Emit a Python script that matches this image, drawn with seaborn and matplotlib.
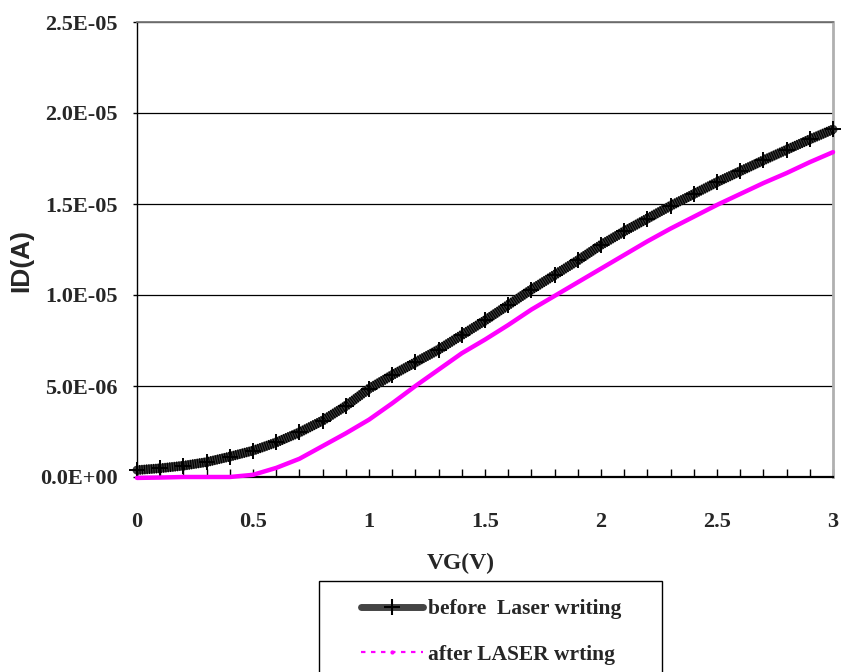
import numpy as np
import pandas as pd
import seaborn as sns
import matplotlib
matplotlib.use("Agg")
import matplotlib.pyplot as plt
from matplotlib.lines import Line2D
from matplotlib.patches import Rectangle
from matplotlib.ticker import FixedLocator, FixedFormatter, MultipleLocator

# ---- data ----
vg = [0.0, 0.1, 0.2, 0.3, 0.4, 0.5, 0.6, 0.7, 0.8, 0.9, 1.0,
      1.1, 1.2, 1.3, 1.4, 1.5, 1.6, 1.7, 1.8, 1.9, 2.0,
      2.1, 2.2, 2.3, 2.4, 2.5, 2.6, 2.7, 2.8, 2.9, 3.0]
id_before = [0.38, 0.48, 0.62, 0.82, 1.12, 1.45, 1.90, 2.45, 3.10, 3.90, 4.85,
             5.60, 6.30, 7.00, 7.80, 8.60, 9.45, 10.30, 11.10, 11.90, 12.75,
             13.50, 14.20, 14.90, 15.55, 16.20, 16.80, 17.40, 17.98, 18.55, 19.10]  # x1e-6 A
id_after = [-0.05, -0.03, 0.0, 0.0, 0.0, 0.12, 0.50, 1.00, 1.70, 2.40, 3.15,
            4.05, 5.00, 5.90, 6.80, 7.55, 8.35, 9.20, 9.95, 10.70, 11.45,
            12.20, 12.95, 13.65, 14.30, 14.95, 15.55, 16.15, 16.70, 17.30, 17.85]  # x1e-6 A
series_names = ["before  Laser writing", "after LASER wrting"]
x_ticks = [0, 0.5, 1, 1.5, 2, 2.5, 3]
x_tick_labels = ["0", "0.5", "1", "1.5", "2", "2.5", "3"]
y_ticks = [0.0, 5e-6, 1e-5, 1.5e-5, 2e-5, 2.5e-5]
y_tick_labels = ["0.0E+00", "5.0E-06", "1.0E-05", "1.5E-05", "2.0E-05", "2.5E-05"]

df = pd.DataFrame({
    "VG": vg + vg,
    "ID": [v * 1e-6 for v in id_before] + [v * 1e-6 for v in id_after],
    "series": [series_names[0]] * len(vg) + [series_names[1]] * len(vg),
})

sns.set_style("white")
plt.rcParams["font.family"] = ["Liberation Serif", "DejaVu Serif"]

W, H = 841, 672
fig = plt.figure(figsize=(W / 100, H / 100), dpi=100)
x0, x1, y0, y1 = 137, 833, 477, 22
ax = fig.add_axes([x0 / W, 1 - y0 / H, (x1 - x0) / W, (y0 - y1) / H])

d1 = df[df["series"] == series_names[0]]
d2 = df[df["series"] == series_names[1]]
# thick hatched band for the "before" series
sns.lineplot(data=d1, x="VG", y="ID", ax=ax, color="#3a3a3a", lw=6.5,
             legend=False, clip_on=False, zorder=3)
sns.lineplot(data=d1, x="VG", y="ID", ax=ax, color="black", lw=7.0,
             ls=(0, (0.12, 0.12)), dash_capstyle="butt",
             legend=False, clip_on=False, zorder=3.1)
sns.lineplot(data=d1, x="VG", y="ID", ax=ax, color="black", lw=0,
             marker="+", markersize=11, markeredgewidth=1.4, markeredgecolor="black",
             legend=False, clip_on=False, zorder=3.2)
sns.lineplot(data=d2, x="VG", y="ID", ax=ax, color="#FF00FF", lw=3.2,
             legend=False, clip_on=False, zorder=4)

ax.set_xlim(0, 3)
ax.set_ylim(0, 2.5e-5)

# ticks
ax.xaxis.set_major_locator(FixedLocator(x_ticks))
ax.xaxis.set_major_formatter(FixedFormatter(x_tick_labels))
ax.xaxis.set_minor_locator(MultipleLocator(0.1))
ax.yaxis.set_major_locator(FixedLocator(y_ticks))
ax.yaxis.set_major_formatter(FixedFormatter(y_tick_labels))
ax.tick_params(axis="x", which="both", direction="in", length=6, width=1,
               color="black", bottom=True, top=False, pad=25,
               labelsize=16)
ax.tick_params(axis="y", which="major", direction="out", length=3, width=1,
               color="black", left=True, pad=11, labelsize=16)
for lab in ax.get_xticklabels() + ax.get_yticklabels():
    lab.set_fontweight("bold")

ax.grid(axis="y", color="black", lw=0.9)
ax.grid(axis="x", visible=False)
ax.set_axisbelow(True)

for s in ["left", "bottom"]:
    ax.spines[s].set_color("black")
ax.spines["left"].set_linewidth(1.0)
ax.spines["bottom"].set_linewidth(1.6)
ax.spines["top"].set_color("#777777")
ax.spines["top"].set_linewidth(1.3)
ax.spines["right"].set_color("#b0b0b0")
ax.spines["right"].set_linewidth(2.0)

ax.set_xlabel("VG(V)", fontsize=17, fontweight="bold")
ax.xaxis.set_label_coords((461 - x0) / (x1 - x0), (y0 - 553) / (y0 - y1))
ax.set_ylabel("ID(A)", fontsize=19, fontweight="bold",
              family=["Liberation Sans", "DejaVu Sans"])
ax.yaxis.set_label_coords((33 - x0) / (x1 - x0), (y0 - 261) / (y0 - y1))

# legend with a rectangular frame extending past the bottom edge
fig.patches.append(Rectangle((319 / W, -0.05), (662 - 319) / W, 0.05 + 1 - 581 / H,
                             transform=fig.transFigure, facecolor="white",
                             edgecolor="black", lw=1.0, zorder=1))
handles = [
    Line2D([], [], color="#444444", lw=5, marker="+", markersize=11,
           markeredgewidth=1.5, markeredgecolor="black"),
    Line2D([], [], color="#FF00FF", lw=1.6, ls=(0, (2, 2.5)), marker=".",
           markersize=4),
]
leg = fig.legend(handles, series_names, loc="upper left",
                 bbox_to_anchor=(361 / W, 1 - 599 / H),
                 bbox_transform=fig.transFigure, frameon=False,
                 handlelength=2.9, handletextpad=0.2, labelspacing=1.2,
                 borderpad=0, borderaxespad=0,
                 prop={"family": "Liberation Serif", "weight": "bold", "size": 15.5})
leg.set_zorder(5)

fig.savefig("out.png", dpi=100)
